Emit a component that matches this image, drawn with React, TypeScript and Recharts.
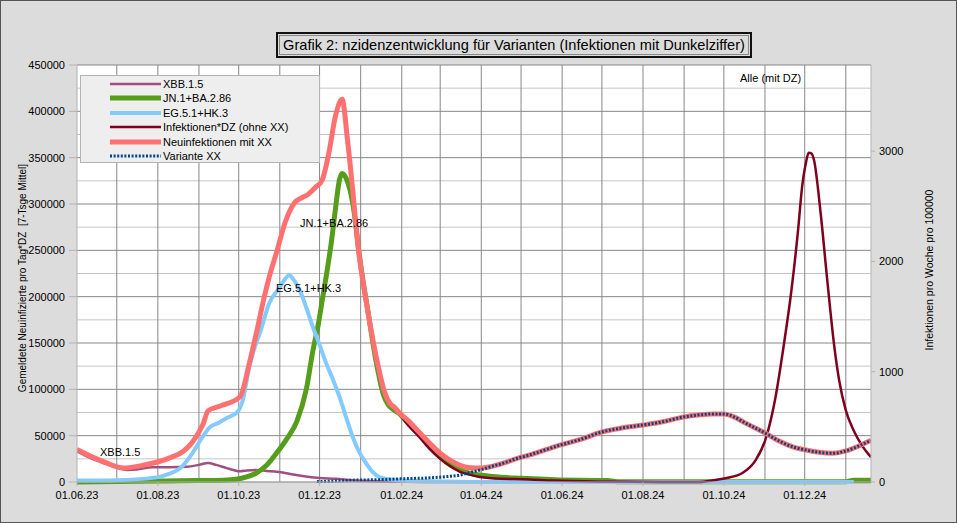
import React from 'react';
import { LineChart, Line, XAxis, YAxis, CartesianGrid } from 'recharts';

const FONT = '"Liberation Sans", Arial, Helvetica, sans-serif';

// ---- axes ----
const xTickDays = [0, 61, 122, 183, 245, 305, 366, 427, 488, 549];
const xTickLabels = ['01.06.23', '01.08.23', '01.10.23', '01.12.23', '01.02.24', '01.04.24', '01.06.24', '01.08.24', '01.10.24', '01.12.24'];
const monthDays = [30, 61, 92, 122, 153, 183, 214, 245, 274, 305, 335, 366, 396, 427, 458, 488, 519, 549, 580];
const leftTicks = [0, 50000, 100000, 150000, 200000, 250000, 300000, 350000, 400000, 450000];
const leftMinor = [25000, 75000, 125000, 175000, 225000, 275000, 325000, 375000, 425000];
const rightTicks = [0, 1000, 2000, 3000];

// ---- series (day index since 01.06.23, value) ----
const xbbDays = [0, 10, 20, 30, 38, 45, 57, 70, 83, 92, 99, 105, 113, 118, 123, 128, 135, 143, 151, 160, 170, 183, 195, 208, 220, 235, 260, 300, 400, 500, 599];
const xbbVals = [33000, 26000, 20500, 15500, 13000, 13500, 16000, 16000, 16500, 18500, 20500, 18500, 15000, 13000, 11500, 12500, 13000, 12000, 11000, 9000, 6500, 4300, 3500, 2000, 1200, 500, 0, 0, 0, 0, 0];

const jnDays = [0, 30, 60, 90, 110, 120, 128, 135, 143, 151, 158, 166, 173, 178, 182, 185, 188, 192, 195, 198, 200, 203, 206, 209, 213, 216, 220, 223, 227, 231, 235, 238, 243, 250, 258, 266, 274, 282, 289, 296, 304, 320, 336, 360, 400, 410, 580, 586, 599];
const jnVals = [0, 500, 1000, 1500, 2000, 3000, 5500, 9500, 18000, 32000, 46000, 66000, 100000, 142000, 170000, 196000, 222000, 260000, 295000, 326000, 333000, 328000, 315000, 292000, 245000, 215000, 180000, 152000, 120000, 95000, 83000, 79000, 74000, 63000, 52000, 39000, 27000, 18000, 13000, 9500, 7500, 5000, 4000, 2500, 1500, 300, 300, 2000, 2000];

const egDays = [0, 30, 60, 70, 78, 87, 94, 100, 107, 113, 121, 125, 130, 134, 138, 145, 153, 157, 160, 164, 168, 173, 178, 183, 188, 193, 198, 203, 208, 213, 218, 223, 228, 235, 241, 260, 280, 300, 400, 500, 586];
const egVals = [1500, 2000, 5000, 9000, 15000, 31000, 47000, 59000, 64000, 69000, 75500, 88000, 124000, 145000, 161000, 193000, 210000, 219000, 223000, 217000, 207000, 188000, 167000, 148000, 128000, 111000, 92000, 70000, 48500, 32000, 20500, 11000, 5400, 3000, 2000, 1000, 500, 0, 0, 0, 0];

// right axis units (Infektionen pro Woche pro 100000)
const dzDays = [0, 10, 20, 35, 50, 70, 80, 87, 95, 99, 108, 123, 130, 136, 141, 145, 151, 157, 164, 170, 174, 180, 185, 190, 195, 200, 204, 208, 212, 217, 223, 228, 232, 236, 240, 243, 250, 258, 266, 274, 282, 289, 296, 304, 320, 336, 360, 400, 440, 469, 480, 490, 502, 512, 520, 527, 533, 539, 544, 547, 550, 552, 554, 556, 561, 566, 571, 575, 580, 586, 592, 599];
const dzVals = [294, 235, 185, 126, 151, 218, 277, 361, 521, 647, 689, 773, 1076, 1387, 1664, 1857, 2101, 2353, 2529, 2580, 2605, 2672, 2739, 2983, 3319, 3471, 3109, 2647, 2143, 1723, 1303, 1008, 815, 714, 664, 622, 513, 412, 300, 210, 140, 92, 67, 45, 29, 25, 13, 4, 0, 0, 15, 36, 82, 199, 408, 771, 1224, 1741, 2285, 2674, 2900, 2985, 2980, 2919, 2439, 1831, 1260, 920, 650, 465, 335, 225];

const neuDays = [0, 10, 20, 35, 50, 70, 80, 87, 95, 99, 108, 123, 130, 136, 141, 145, 151, 157, 164, 170, 174, 180, 185, 190, 195, 200, 204, 208, 212, 217, 223, 228, 232, 236, 240, 243, 250, 258, 266, 274, 282, 289, 296, 304, 312, 321, 330, 341, 355, 365, 380, 396, 410, 427, 442, 457, 470, 480, 488, 496, 505, 519, 530, 540, 550, 560, 570, 580, 590, 599];
const neuVals = [35000, 28000, 22000, 15000, 18000, 26000, 33000, 43000, 62000, 77000, 82000, 92000, 128000, 165000, 198000, 221000, 250000, 280000, 301000, 307000, 310000, 318000, 326000, 355000, 395000, 413000, 370000, 315000, 255000, 205000, 155000, 120000, 97000, 85000, 80000, 75000, 66000, 54000, 42000, 31000, 23000, 18000, 15500, 15000, 16500, 20000, 24500, 29000, 35500, 40000, 46000, 54000, 58000, 61500, 65000, 70000, 72500, 73500, 73500, 70000, 63000, 53000, 44000, 38000, 34500, 32000, 31000, 33500, 39000, 45000];

const xxDays = [181, 195, 208, 228, 245, 266, 280, 289, 296, 304, 312, 321, 330, 341, 355, 365, 380, 396, 410, 427, 442, 457, 470, 480, 488, 496, 505, 519, 530, 540, 550, 560, 570, 580, 590, 599];
const xxVals = [500, 1000, 2000, 2500, 3500, 4500, 6000, 7500, 10000, 13000, 16500, 20000, 24500, 29000, 35500, 40000, 46000, 54000, 58000, 61500, 65000, 70000, 72500, 73500, 73500, 70000, 63000, 53000, 44000, 38000, 34500, 32000, 31000, 33500, 39000, 45000];

const zip = (days: number[], vals: number[]) => days.map((d, i) => ({ d, v: vals[i] }));

const legendItems = [
  { name: 'XBB.1.5', color: '#a0507f', width: 2.5, dash: undefined as string | undefined },
  { name: 'JN.1+BA.2.86', color: '#579d1c', width: 5, dash: undefined },
  { name: 'EG.5.1+HK.3', color: '#83caff', width: 4, dash: undefined },
  { name: 'Infektionen*DZ (ohne XX)', color: '#7e0021', width: 2.5, dash: undefined },
  { name: 'Neuinfektionen mit XX', color: '#ff7070', width: 5, dash: undefined },
  { name: 'Variante XX', color: '#004586', width: 3, dash: '2 1.6' },
];

const absText = (left: number, top: number, text: string, size = 11): React.ReactNode => (
  <div style={{ position: 'absolute', left, top, fontSize: size, lineHeight: '14px', fontFamily: FONT, color: '#000', whiteSpace: 'nowrap' }}>{text}</div>
);

export default function App() {
  return (
    <div style={{ position: 'absolute', left: 0, top: 0, width: 957, height: 523, background: '#dcdcdc', fontFamily: FONT }}>
      <LineChart width={957} height={523} margin={{ top: 65, right: 0, bottom: 0, left: 0 }}>
        <CartesianGrid yAxisId="left" fill="#ffffff" stroke="#c6c6c6" vertical={false} horizontalValues={leftMinor} />
        <CartesianGrid yAxisId="left" stroke="#878787" horizontalValues={leftTicks} verticalValues={monthDays} />
        <XAxis
          type="number"
          dataKey="d"
          domain={[0, 599]}
          ticks={xTickDays}
          tickFormatter={(v: number) => xTickLabels[xTickDays.indexOf(v)] ?? ''}
          height={41}
          stroke="#b3b3b3"
          tickSize={4}
          tickMargin={5}
          tick={{ fill: '#000', fontSize: 11, fontFamily: FONT }}
          allowDataOverflow
        />
        <YAxis
          yAxisId="left"
          domain={[0, 450000]}
          ticks={leftTicks}
          width={77}
          stroke="#b3b3b3"
          tickSize={8}
          tickMargin={4}
          tick={{ fill: '#000', fontSize: 11, fontFamily: FONT }}
          interval={0}
        />
        <YAxis
          yAxisId="right"
          orientation="right"
          domain={[0, 3781]}
          ticks={rightTicks}
          width={86}
          stroke="#b3b3b3"
          tickSize={4}
          tickMargin={4}
          tick={{ fill: '#000', fontSize: 11, fontFamily: FONT }}
          interval={0}
        />
        <Line yAxisId="left" data={zip(xbbDays, xbbVals)} dataKey="v" type="monotone" stroke="#a0507f" strokeWidth={2.5} dot={false} isAnimationActive={false} />
        <Line yAxisId="left" data={zip(jnDays, jnVals)} dataKey="v" type="monotone" stroke="#579d1c" strokeWidth={5} dot={false} isAnimationActive={false} />
        <Line yAxisId="left" data={zip(egDays, egVals)} dataKey="v" type="monotone" stroke="#83caff" strokeWidth={4} dot={false} isAnimationActive={false} />
        <Line yAxisId="right" data={zip(dzDays, dzVals)} dataKey="v" type="monotone" stroke="#7e0021" strokeWidth={2.5} dot={false} isAnimationActive={false} />
        <Line yAxisId="left" data={zip(neuDays, neuVals)} dataKey="v" type="monotone" stroke="#ff7070" strokeWidth={5} dot={false} isAnimationActive={false} />
        <Line yAxisId="left" data={zip(xxDays, xxVals)} dataKey="v" type="monotone" stroke="#004586" strokeWidth={3} strokeDasharray="2 1.6" dot={false} isAnimationActive={false} />
      </LineChart>

      {/* title */}
      <div style={{ position: 'absolute', left: 276, top: 32, width: 476, height: 26, boxSizing: 'border-box', border: '2px solid #111', padding: 1 }}>
        <div style={{ width: '100%', height: '100%', boxSizing: 'border-box', border: '1px solid #888', fontSize: 14.6, lineHeight: '18px', textAlign: 'center', color: '#000', whiteSpace: 'nowrap' }}>
          Grafik 2: nzidenzentwicklung für Varianten (Infektionen mit Dunkelziffer)
        </div>
      </div>

      {/* legend */}
      <div style={{ position: 'absolute', left: 80, top: 75, width: 240, height: 88, boxSizing: 'border-box', background: '#eeeeee', border: '1px solid #b3b3b3' }}>
        {legendItems.map((it, i) => (
          <div key={it.name} style={{ position: 'absolute', left: 0, top: 1 + i * 14.4, height: 14, width: 238 }}>
            <svg width={55} height={14} style={{ position: 'absolute', left: 28, top: 0 }}>
              <line x1={1} y1={7} x2={52} y2={7} stroke={it.color} strokeWidth={it.width} strokeDasharray={it.dash} />
            </svg>
            <div style={{ position: 'absolute', left: 82, top: 0, fontSize: 11, lineHeight: '14px', color: '#000', whiteSpace: 'nowrap' }}>{it.name}</div>
          </div>
        ))}
      </div>

      {absText(740, 71, 'Alle (mit DZ)')}
      {absText(100, 445, 'XBB.1.5')}
      {absText(300, 216, 'JN.1+BA.2.86')}
      {absText(276, 281, 'EG.5.1+HK.3')}

      {/* axis titles */}
      <div style={{ position: 'absolute', left: 22, top: 278, transform: 'translate(-50%, -50%) rotate(-90deg)', fontSize: 10, color: '#000', whiteSpace: 'pre' }}>
        Gemeldete Neuinfizierte pro Tag*DZ  [7-Tsge Mittel]
      </div>
      <div style={{ position: 'absolute', left: 929, top: 270, transform: 'translate(-50%, -50%) rotate(-90deg)', fontSize: 10.5, color: '#000', whiteSpace: 'nowrap' }}>
        Infektionen pro Woche pro 100000
      </div>

      <div style={{ position: 'absolute', left: 0, top: 0, width: 957, height: 523, boxSizing: 'border-box', border: '1px solid #555', pointerEvents: 'none' }} />
    </div>
  );
}
